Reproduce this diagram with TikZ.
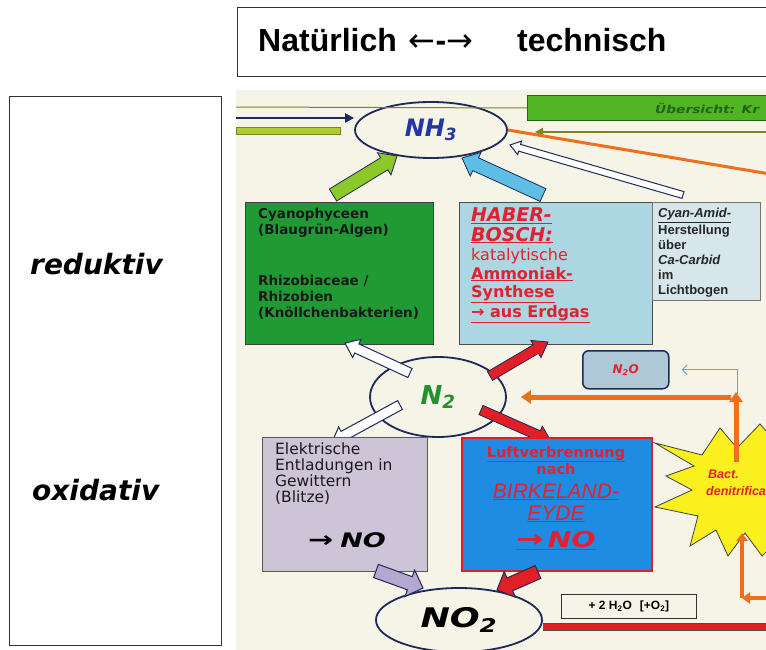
\documentclass[tikz,border=0pt]{standalone}
\usepackage{fontspec}
\usepackage{graphicx}
\setmainfont{Liberation Sans}
\newfontfamily\djv{DejaVu Sans}
\newfontfamily\lib{Liberation Sans}
\usetikzlibrary{arrows.meta,calc,shapes.geometric,positioning}
\definecolor{creme}{RGB}{246,243,231}
\definecolor{navy}{RGB}{28,42,88}
\definecolor{nhblau}{RGB}{35,55,165}
\definecolor{gruenbalken}{RGB}{80,180,35}
\definecolor{dunkelgruen}{RGB}{35,100,25}
\definecolor{oliv}{RGB}{125,130,35}
\definecolor{hellgruen}{RGB}{175,205,45}
\definecolor{orange1}{RGB}{238,112,30}
\definecolor{pfeilgruen}{RGB}{140,200,40}
\definecolor{pfeilcyan}{RGB}{95,190,230}
\definecolor{cyanobox}{RGB}{32,155,52}
\definecolor{haberbox}{RGB}{172,214,226}
\definecolor{amidbox}{RGB}{214,230,235}
\definecolor{rottext}{RGB}{228,32,48}
\definecolor{ngruen}{RGB}{35,145,45}
\definecolor{pfeilrot}{RGB}{226,30,38}
\definecolor{lachgas}{RGB}{175,200,215}
\definecolor{lila}{RGB}{206,196,216}
\definecolor{lilapfeil}{RGB}{180,168,208}
\definecolor{birkeland}{RGB}{30,140,226}
\definecolor{sterngelb}{RGB}{250,240,30}
\definecolor{blaulinie}{RGB}{100,170,205}
% fat arrow: style, tail, tip, shaft half width, head half width, head length
\newcommand{\dickpfeil}[6]{%
  \coordinate (dp-b) at ($(#3)!#6!(#2)$);
  \filldraw[#1] ($(#2)!#4!90:(#3)$) -- ($(dp-b)!#4!90:(#3)$) -- ($(dp-b)!#5!90:(#3)$) -- (#3)
    -- ($(dp-b)!#5!-90:(#3)$) -- ($(dp-b)!#4!-90:(#3)$) -- ($(#2)!#4!-90:(#3)$) -- cycle;}
\newcommand{\grosspfeil}{\scalebox{1.5}[1.1]{→}}

\begin{document}
\begin{tikzpicture}[x=1pt,y=-1pt,>=Stealth,
  box/.style={rectangle,inner sep=0,anchor=north west},
  zeile/.style={inner sep=0,anchor=base west},
  kreis/.style={ellipse,draw=navy,line width=1.8pt,inner sep=0}]
\useasboundingbox (0,0) rectangle (766,650);
% title and side box
\draw[line width=1pt,black!80] (237.5,8) rectangle (766,77);
\node[zeile,font=\lib\bfseries\fontsize{32}{36}\selectfont] (titel) at (258,52)
  {Natürlich\hspace{12pt}{\djv\mdseries ←}-{\djv\mdseries →}\hspace{44pt}technisch};
\draw[line width=1pt,black!80] (9.5,96.5) rectangle (221,645);
\node[zeile,font=\djv\bfseries\itshape\fontsize{28}{32}\selectfont] (reduktiv) at (30,274) {reduktiv};
\node[zeile,font=\djv\bfseries\itshape\fontsize{28}{32}\selectfont] (oxidativ) at (32,500) {oxidativ};

\begin{scope}
\clip (236,90) rectangle (766,650);
\fill[creme] (236,90) rectangle (766,650);
% top bars
\node[box,draw=dunkelgruen,line width=1pt,fill=gruenbalken,minimum width=263,minimum height=25] (uebersicht) at (527,95) {};
\node[inner sep=0,anchor=west,text=dunkelgruen,font=\djv\bfseries\itshape\fontsize{11}{12}\selectfont] (uetext) at (655,108)
  {\scalebox{1.25}[1]{Übersicht: Kr}};
\node[kreis,minimum width=152,minimum height=56,text=nhblau,font=\djv\bfseries\itshape\fontsize{24}{28}\selectfont] (nh3) at (431,130) {NH\textsubscript{3}};
\coordinate (li1) at (236,118);
\coordinate (li2) at (236,107);
\coordinate (re1) at (770,132);
\coordinate (re2) at (535,132);
\coordinate (re3) at (770,174);
\draw[oliv,line width=1pt] (li2) -- (uebersicht.west);
\draw[navy,line width=2.5pt,-{Triangle[length=9pt,width=9pt]}] (li1) -- (nh3.west |- li1);
\draw[oliv,fill=hellgruen,line width=0.8pt] (236,127) rectangle (340,134);
\draw[oliv,line width=2pt,-{Triangle[length=8pt,width=8pt]}] (re1) -- (re2);
\draw[orange1,line width=3pt] (nh3.east) -- (re3);
% arrows into NH3
\coordinate (g1) at (333,195); \coordinate (g2) at (397,156);
\coordinate (c1) at (543,195); \coordinate (c2) at (462,158);
\coordinate (w1) at (683,195); \coordinate (w2) at (510,145);
\dickpfeil{fill=pfeilgruen,draw=navy,line width=0.8pt}{g1}{g2}{7pt}{13pt}{15pt}
\dickpfeil{fill=pfeilcyan,draw=navy,line width=0.8pt}{c1}{c2}{7pt}{13pt}{15pt}
\dickpfeil{fill=white,draw=navy,line width=1pt}{w1}{w2}{3.5pt}{7pt}{10pt}
% reductive boxes
\node[box,draw=black!75,line width=1pt,fill=cyanobox,minimum width=188,minimum height=142] (cyano) at (245,202) {};
\node[box,align=left,text=black!90,font=\djv\bfseries\fontsize{13.5}{16}\selectfont] (cy1) at (258,208)
  {Cyanophyceen\\(Blaugrün-Algen)};
\node[box,align=left,text=black!90,font=\djv\bfseries\fontsize{13.5}{16}\selectfont] (cy2) at (258,275)
  {Rhizobiaceae /\\Rhizobien\\(Knöllchenbakterien)};
\node[box,draw=black!70,line width=1pt,fill=haberbox,minimum width=193,minimum height=142] (haber) at (459,202) {};
\node[zeile,text=rottext,font=\djv\bfseries\itshape\fontsize{19}{22}\selectfont] (hb1) at (471,222) {\underline{HABER-}};
\node[zeile,text=rottext,font=\djv\bfseries\itshape\fontsize{19}{22}\selectfont] (hb2) at (471,241) {\underline{BOSCH:}};
\node[zeile,text=rottext,font=\djv\fontsize{16}{19}\selectfont] (hb3) at (471,260) {katalytische};
\foreach \y/\t in {279/Ammoniak-,297/Synthese,317/→ aus Erdgas}
  \node[zeile,text=rottext,font=\djv\bfseries\fontsize{16}{19}\selectfont] (hb\y) at (471,\y) {\underline{\t}};
\node[box,draw=black!55,line width=0.8pt,fill=amidbox,minimum width=108,minimum height=98] (amid) at (652,202) {};
\foreach \y/\t in {218/{\itshape\underline{Cyan-Amid-}},234/Herstellung,249/über,264/{\itshape Ca-Carbid},279/im,294/Lichtbogen}
  \node[zeile,text=black!85,font=\lib\bfseries\fontsize{13}{15}\selectfont] (am\y) at (658,\y) {\t};
% N2 and its arrows
\node[kreis,minimum width=136,minimum height=80,text=ngruen,font=\djv\bfseries\itshape\fontsize{26}{30}\selectfont] (n2) at (438,397) {N\textsubscript{2}};
\coordinate (a1) at (410,373); \coordinate (a2) at (345,343);
\coordinate (b1) at (490,376); \coordinate (b2) at (548,342);
\coordinate (d1) at (400,405); \coordinate (d2) at (332,442);
\coordinate (e1) at (481,410); \coordinate (e2) at (551,441);
\dickpfeil{fill=white,draw=navy,line width=1pt}{a1}{a2}{5pt}{10pt}{13pt}
\dickpfeil{fill=pfeilrot,draw=navy,line width=0.8pt}{b1}{b2}{5pt}{10pt}{14pt}
\dickpfeil{fill=white,draw=navy,line width=1pt}{d1}{d2}{5pt}{10pt}{13pt}
\dickpfeil{fill=pfeilrot,draw=navy,line width=0.8pt}{e1}{e2}{5pt}{10pt}{14pt}
% N2O
\node[box,draw=navy,line width=1.5pt,rounded corners=6pt,fill=lachgas,minimum width=86,minimum height=38,anchor=north west,
  text=rottext,font=\djv\bfseries\itshape\fontsize{12}{14}\selectfont] (lachgas) at (582,350) {N\textsubscript{2}O};
\coordinate (bl1) at (737,394);
\draw[blaulinie,line width=1pt,-{Straight Barb[length=5pt,width=10pt]}] (bl1) |- ([xshift=12pt]lachgas.east);
% oxidative boxes
\node[box,draw=black!65,line width=1pt,fill=lila,minimum width=165,minimum height=134] (blitz) at (262,437) {};
\node[box,align=left,text=black!90,font=\djv\fontsize{15.5}{16}\selectfont] (bl) at (275,443)
  {Elektrische\\Entladungen in\\Gewittern\\(Blitze)};
\node[zeile,font=\djv\bfseries\fontsize{20}{24}\selectfont] (blno) at (308,547) {\grosspfeil\ \scalebox{1.35}[1]{\itshape NO}};
\node[box,draw=pfeilrot,line width=1.5pt,fill=birkeland,minimum width=190,minimum height=133] (birk) at (461,437) {};
\node[inner sep=0,anchor=base,text=rottext,font=\djv\bfseries\fontsize{14.5}{17}\selectfont] (bk1) at (556,457) {\underline{Luftverbrennung}};
\node[inner sep=0,anchor=base,text=rottext,font=\djv\bfseries\fontsize{14.5}{17}\selectfont] (bk2) at (556,474) {nach};
\node[inner sep=0,anchor=base,text=rottext,font=\lib\itshape\fontsize{21}{24}\selectfont] (bk3) at (556,498) {\underline{BIRKELAND-}};
\node[inner sep=0,anchor=base,text=rottext,font=\lib\itshape\fontsize{21}{24}\selectfont] (bk4) at (556,520) {\underline{EYDE}};
\node[inner sep=0,anchor=base,text=rottext,font=\djv\bfseries\itshape\fontsize{22}{26}\selectfont] (bk5) at (556,547)
  {\underline{\grosspfeil\,\scalebox{1.3}[1]{NO}}};
% denitrification star
\filldraw[fill=sterngelb,draw=black!75,line width=0.8pt] (655,443) -- (702,455) -- (720,428) -- (737,448) -- (760,424)
  -- (800,470) -- (800,520) -- (762,556) -- (745,533) -- (728,556) -- (716,530) -- (690,546) -- (698,516)
  -- (655,507) -- (692,490) -- (666,476) -- (694,466) -- cycle;
\node[zeile,text=rottext,font=\lib\bfseries\itshape\fontsize{12.5}{14}\selectfont] (bact) at (708,478) {Bact.};
\node[zeile,text=rottext,font=\lib\bfseries\itshape\fontsize{12.5}{14}\selectfont] (denit) at (706,495) {denitrifica};
\coordinate (o1) at (731,397);
\coordinate (o2) at (736,462); \coordinate (o3) at (736,392);
\coordinate (o4) at (742,598); \coordinate (o5) at (742,533);
\coordinate (o6) at (770,598);
\draw[orange1,line width=5pt,-{Triangle[length=10pt,width=13pt]}] (o1) -- ([xshift=14pt]n2.east);
\draw[orange1,line width=5pt,-{Triangle[length=10pt,width=13pt]}] (o2) -- (o3);
\draw[orange1,line width=4pt,-{Triangle[length=8pt,width=11pt]}] (o4) -- (o5);
\draw[orange1,line width=4pt,-{Triangle[length=8pt,width=11pt]}] (o6) -- (o4);
% NO2
\node[kreis,minimum width=166,minimum height=64,text=black,font=\djv\bfseries\itshape\fontsize{27}{30}\selectfont] (no2) at (459,620)
  {\scalebox{1.3}[1]{NO\textsubscript{2}}};
\coordinate (l1) at (376,571); \coordinate (l2) at (423,588);
\coordinate (r1) at (538,572); \coordinate (r2) at (497,590);
\dickpfeil{fill=lilapfeil,draw=navy,line width=1pt}{l1}{l2}{7pt}{14pt}{14pt}
\dickpfeil{fill=pfeilrot,draw=navy,line width=1pt}{r1}{r2}{7pt}{14pt}{14pt}
\node[box,draw=black!80,line width=0.8pt,fill=creme,minimum width=135,minimum height=24,
  font=\lib\bfseries\fontsize{12}{14}\selectfont] (wasser) at (561,594) {+ 2 H\textsubscript{2}O\hspace{8pt}[+O\textsubscript{2}]};
\coordinate (rb) at (770,627);
\draw[black!70,line width=8.5pt] (no2.east |- rb) -- (rb);
\draw[pfeilrot,line width=6.5pt] (no2.east |- rb) -- (rb);
\end{scope}
\end{tikzpicture}
\end{document}
